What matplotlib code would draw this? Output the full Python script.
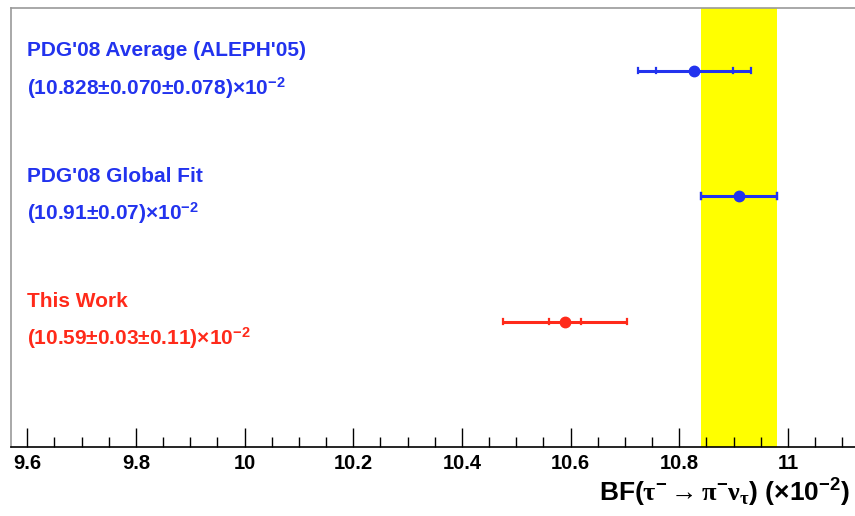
import numpy as np
import matplotlib
matplotlib.use("Agg")
import matplotlib.pyplot as plt
from matplotlib.ticker import MultipleLocator

plt.rcParams['font.family'] = ['Liberation Sans', 'DejaVu Sans']
plt.rcParams['font.weight'] = 'bold'
plt.rcParams['mathtext.fontset'] = 'custom'
plt.rcParams['mathtext.rm'] = 'Liberation Serif'
plt.rcParams['mathtext.it'] = 'Liberation Serif:italic'
plt.rcParams['mathtext.bf'] = 'Liberation Sans:bold'
plt.rcParams['mathtext.default'] = 'regular'

# ---- data ----
names = ["PDG'08 Average (ALEPH'05)", "PDG'08 Global Fit", "This Work"]
value_texts = [r"(10.828$\pm$0.070$\pm$0.078)$\times$10$^{-2}$",
               r"(10.91$\pm$0.07)$\times$10$^{-2}$",
               r"(10.59$\pm$0.03$\pm$0.11)$\times$10$^{-2}$"]
central = [10.828, 10.91, 10.59]
stat_err = [0.070, 0.07, 0.03]
syst_err = [0.078, 0.0, 0.11]
colors = ["#2233ee", "#2233ee", "#ff2a1a"]
rows = [3, 2, 1]
band_center = 10.91
band_half = 0.07
xticks = [9.6, 9.8, 10.0, 10.2, 10.4, 10.6, 10.8, 11.0]
xticklabels = ["9.6", "9.8", "10", "10.2", "10.4", "10.6", "10.8", "11"]

fig = plt.figure(figsize=(8.55, 5.16), dpi=100)
ax = fig.add_axes([0.0129, 0.1337, 0.99, 0.8508])
ax.set_xlim(9.570, 11.128)
ax.set_ylim(0, 3.5)

ax.axvspan(band_center - band_half, band_center + band_half, color="#ffff00", lw=0, zorder=1)

for c, s, sy, y, col in zip(central, stat_err, syst_err, rows, colors):
    tot = np.sqrt(s**2 + sy**2)
    ax.plot([c - tot, c + tot], [y, y], color=col, lw=2.2, zorder=3, solid_capstyle='butt')
    for xe in (c - tot, c + tot, c - s, c + s):
        ax.plot([xe, xe], [y - 0.022, y + 0.022], color=col, lw=1.6, zorder=3)
    ax.plot([c], [y], 'o', color=col, ms=7.5, zorder=4)

text_x = 9.6
for name, vt, y, col in zip(names, value_texts, rows, colors):
    ax.text(text_x, y + 0.16, name, color=col, fontsize=15, fontweight='bold',
            va='center', ha='left')
    ax.text(text_x, y - 0.135, vt, color=col, fontsize=15, fontweight='bold',
            va='center', ha='left')

ax.set_xticks(xticks)
ax.set_xticklabels(xticklabels, fontsize=14.5, fontweight='bold')
ax.xaxis.set_minor_locator(MultipleLocator(0.05))
ax.tick_params(axis='x', which='major', direction='in', length=14, width=1, pad=5)
ax.tick_params(axis='x', which='minor', direction='in', length=7, width=1)
ax.set_yticks([])
for sp in ('top', 'left', 'right'):
    ax.spines[sp].set_color('#999999')
    ax.spines[sp].set_linewidth(1.2)
ax.spines['bottom'].set_linewidth(1.2)

fig.text(0.994, 0.045,
         r"BF($\mathrm{τ}^{-}\rightarrow\mathrm{π}^{-}\mathrm{ν}_{\mathrm{τ}}$) ($\times$10$^{-2}$)",
         ha='right', va='center', fontsize=19, fontweight='bold')

fig.savefig("out.png", dpi=100)
